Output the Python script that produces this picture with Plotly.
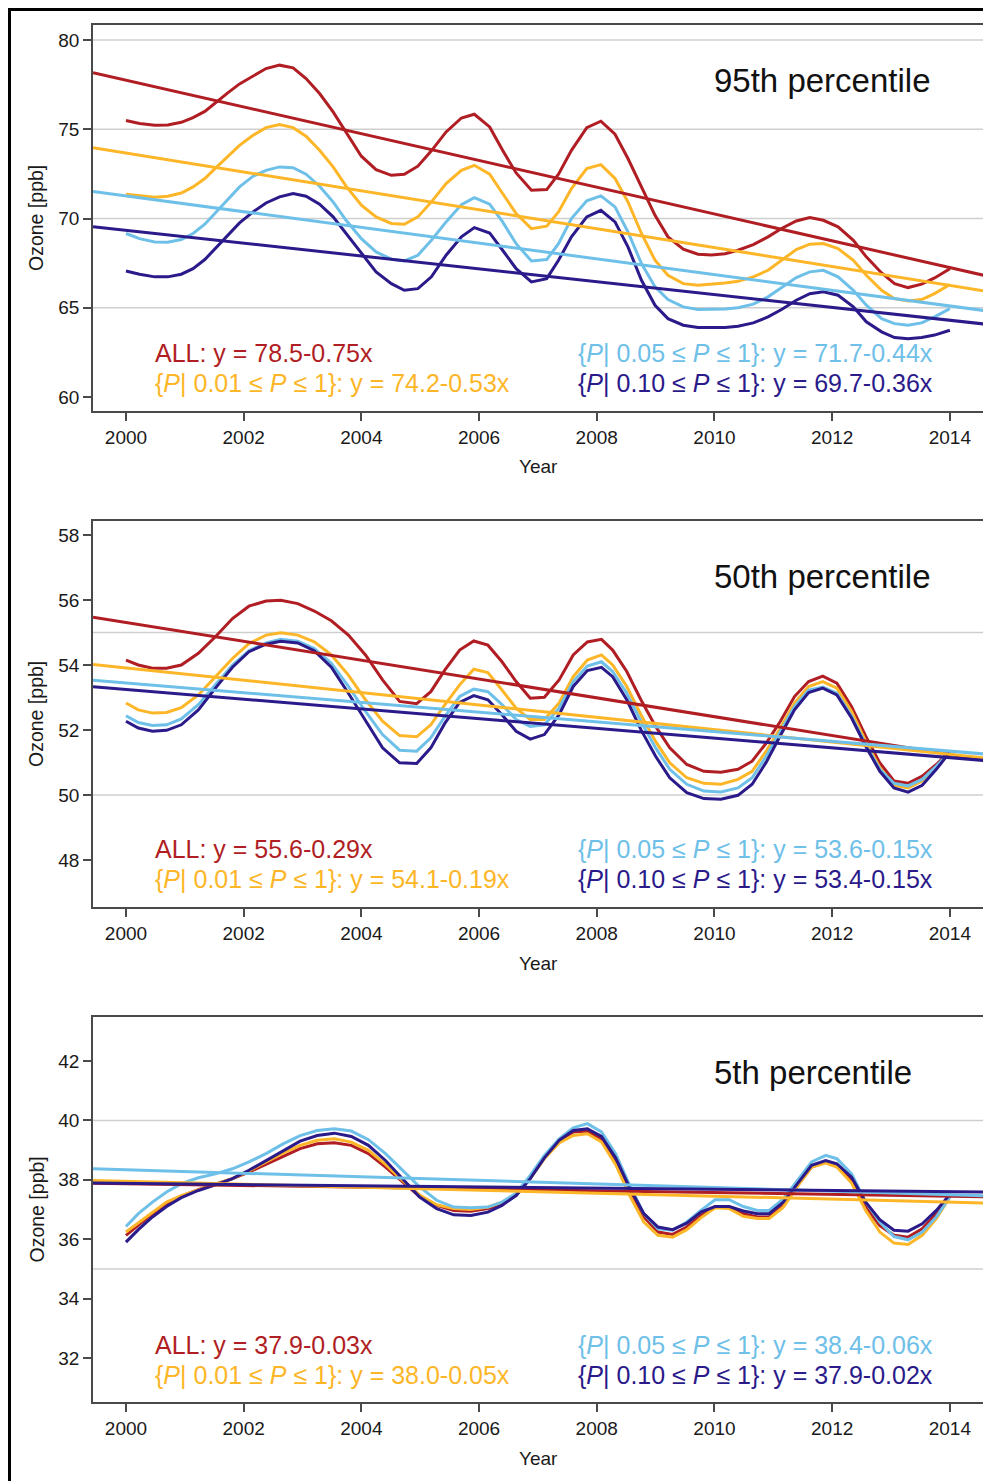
import plotly.graph_objects as go
import numpy as np

# The page body has an 8px margin: the figure is offset by 8px in the window.
OFF = 8
W, H = 991 - OFF, 1481 - OFF
FONT = "Liberation Sans, Arial, sans-serif"

# ---------------- data ----------------
series_names = ["ALL", "P>=0.01", "P>=0.05", "P>=0.10"]
colors = ["#B01E24", "#FDB628", "#6EC0E8", "#2A1A8A"]

# 95th percentile
years_95 = [2000.0, 2000.23, 2000.49, 2000.71, 2000.94, 2001.14, 2001.34, 2001.53, 2001.73, 2001.93,
            2002.16, 2002.38, 2002.61, 2002.84, 2003.06, 2003.29, 2003.52, 2003.74, 2004.0, 2004.25,
            2004.51, 2004.73, 2004.96, 2005.19, 2005.44, 2005.70, 2005.92, 2006.18, 2006.40, 2006.63,
            2006.89, 2007.15, 2007.35, 2007.57, 2007.83, 2008.07, 2008.31, 2008.53, 2008.76, 2008.99,
            2009.21, 2009.47, 2009.72, 2009.95, 2010.18, 2010.40, 2010.66, 2010.91, 2011.14, 2011.39,
            2011.62, 2011.85, 2012.10, 2012.36, 2012.58, 2012.84, 2013.06, 2013.29, 2013.52, 2013.74, 2014.0]
all_95 = [75.49, 75.32, 75.22, 75.24, 75.39, 75.65, 76.0, 76.53, 77.04, 77.54, 78.0, 78.4, 78.59, 78.44,
          77.84, 77.0, 75.97, 74.8, 73.49, 72.74, 72.42, 72.48, 72.93, 73.79, 74.85, 75.63, 75.84, 75.13,
          73.82, 72.55, 71.58, 71.62, 72.48, 73.82, 75.09, 75.45, 74.72, 73.36, 71.77, 70.18, 68.97, 68.28,
          68.0, 67.96, 68.03, 68.22, 68.54, 68.97, 69.44, 69.86, 70.05, 69.9, 69.53, 68.78, 67.85, 66.95,
          66.35, 66.13, 66.32, 66.67, 67.19]
p01_95 = [71.36, 71.27, 71.19, 71.25, 71.43, 71.77, 72.24, 72.85, 73.49, 74.1, 74.66, 75.09, 75.26, 75.09,
          74.61, 73.82, 72.89, 71.81, 70.74, 70.09, 69.72, 69.68, 70.09, 70.93, 71.96, 72.7, 72.98, 72.48,
          71.4, 70.28, 69.43, 69.57, 70.37, 71.68, 72.8, 73.02, 72.24, 70.93, 69.16, 67.66, 66.82, 66.35,
          66.26, 66.32, 66.39, 66.48, 66.73, 67.1, 67.66, 68.26, 68.56, 68.6, 68.31, 67.66, 66.82, 65.98,
          65.51, 65.38, 65.46, 65.79, 66.3]
p05_95 = [69.16, 68.87, 68.69, 68.67, 68.82, 69.16, 69.68, 70.37, 71.06, 71.77, 72.37, 72.7, 72.89, 72.85,
          72.48, 71.81, 70.93, 69.9, 68.87, 68.13, 67.72, 67.62, 67.94, 68.78, 69.81, 70.78, 71.17, 70.8,
          69.81, 68.59, 67.62, 67.7, 68.59, 70.0, 70.99, 71.27, 70.65, 69.25, 67.47, 66.17, 65.46, 65.05,
          64.9, 64.9, 64.93, 65.0, 65.2, 65.61, 66.13, 66.69, 67.01, 67.1, 66.73, 65.98, 65.14, 64.39,
          64.11, 64.02, 64.15, 64.49, 64.95]
p10_95 = [67.06, 66.88, 66.73, 66.73, 66.88, 67.19, 67.7, 68.37, 69.06, 69.75, 70.37, 70.87, 71.21, 71.4,
          71.25, 70.8, 70.09, 69.16, 68.03, 67.01, 66.35, 65.98, 66.07, 66.73, 67.94, 68.97, 69.49, 69.19,
          68.22, 67.19, 66.45, 66.63, 67.66, 68.97, 70.09, 70.46, 69.81, 68.41, 66.54, 65.14, 64.39, 64.02,
          63.89, 63.89, 63.89, 63.96, 64.15, 64.49, 64.9, 65.42, 65.79, 65.89, 65.7, 65.05, 64.21, 63.65,
          63.33, 63.26, 63.33, 63.47, 63.74]
icpt_95 = [78.5, 74.2, 71.7, 69.7]
slope_95 = [-0.75, -0.53, -0.44, -0.36]

# 50th percentile
years_50 = [2000.0, 2000.21, 2000.45, 2000.69, 2000.94, 2001.23, 2001.52, 2001.81, 2002.09, 2002.38,
            2002.63, 2002.92, 2003.20, 2003.49, 2003.78, 2004.07, 2004.36, 2004.65, 2004.94, 2005.18,
            2005.42, 2005.67, 2005.91, 2006.15, 2006.39, 2006.63, 2006.87, 2007.11, 2007.36, 2007.60,
            2007.84, 2008.08, 2008.27, 2008.51, 2008.75, 2009.00, 2009.24, 2009.53, 2009.82, 2010.11,
            2010.40, 2010.64, 2010.88, 2011.12, 2011.36, 2011.60, 2011.84, 2012.08, 2012.33, 2012.57,
            2012.81, 2013.05, 2013.29, 2013.53, 2013.77, 2014.0]
all_50 = [54.15, 54.0, 53.9, 53.9, 54.0, 54.36, 54.87, 55.43, 55.81, 55.97, 55.99, 55.89, 55.66, 55.36,
          54.92, 54.31, 53.54, 52.88, 52.81, 53.18, 53.85, 54.46, 54.74, 54.61, 54.1, 53.49, 52.98, 53.01,
          53.54, 54.31, 54.71, 54.79, 54.46, 53.8, 52.93, 52.11, 51.45, 50.94, 50.73, 50.7, 50.79, 51.04,
          51.6, 52.27, 53.03, 53.49, 53.66, 53.44, 52.72, 51.81, 50.99, 50.43, 50.36, 50.58, 50.94, 51.35]
p01_50 = [52.83, 52.62, 52.52, 52.54, 52.69, 53.08, 53.64, 54.2, 54.66, 54.92, 54.99, 54.92, 54.71, 54.31,
          53.69, 52.93, 52.27, 51.83, 51.79, 52.16, 52.78, 53.39, 53.87, 53.77, 53.23, 52.67, 52.32, 52.32,
          52.83, 53.64, 54.15, 54.31, 54.0, 53.34, 52.47, 51.65, 50.99, 50.53, 50.36, 50.33, 50.48, 50.73,
          51.35, 52.06, 52.83, 53.34, 53.49, 53.29, 52.57, 51.65, 50.84, 50.3, 50.22, 50.43, 50.84, 51.32]
p05_50 = [52.44, 52.23, 52.14, 52.16, 52.34, 52.78, 53.39, 54.0, 54.44, 54.68, 54.79, 54.73, 54.51, 54.05,
          53.34, 52.57, 51.86, 51.38, 51.35, 51.76, 52.42, 53.03, 53.26, 53.18, 52.78, 52.32, 52.11, 52.16,
          52.67, 53.49, 53.97, 54.1, 53.8, 53.13, 52.27, 51.45, 50.79, 50.33, 50.12, 50.09, 50.22, 50.53,
          51.19, 51.96, 52.72, 53.23, 53.32, 53.13, 52.42, 51.55, 50.79, 50.36, 50.28, 50.48, 50.89, 51.32]
p10_50 = [52.27, 52.06, 51.96, 51.99, 52.16, 52.62, 53.29, 53.93, 54.41, 54.64, 54.73, 54.68, 54.44, 53.93,
          53.13, 52.27, 51.45, 50.99, 50.97, 51.45, 52.21, 52.85, 53.06, 52.93, 52.47, 51.96, 51.72, 51.86,
          52.47, 53.34, 53.83, 53.93, 53.64, 52.93, 52.01, 51.19, 50.53, 50.07, 49.89, 49.87, 49.99, 50.33,
          51.01, 51.83, 52.62, 53.15, 53.29, 53.08, 52.37, 51.5, 50.73, 50.22, 50.09, 50.3, 50.79, 51.32]
icpt_50 = [55.6, 54.1, 53.6, 53.4]
slope_50 = [-0.29, -0.19, -0.15, -0.15]

# 5th percentile
years_5 = [2000.0, 2000.21, 2000.45, 2000.69, 2000.94, 2001.23, 2001.52, 2001.81, 2002.09, 2002.38,
           2002.67, 2002.96, 2003.25, 2003.54, 2003.83, 2004.12, 2004.41, 2004.70, 2004.99, 2005.28,
           2005.57, 2005.86, 2006.15, 2006.39, 2006.63, 2006.87, 2007.11, 2007.36, 2007.60, 2007.84,
           2008.08, 2008.32, 2008.56, 2008.80, 2009.04, 2009.29, 2009.53, 2009.77, 2010.01, 2010.25,
           2010.49, 2010.73, 2010.93, 2011.17, 2011.41, 2011.65, 2011.89, 2012.08, 2012.33, 2012.57,
           2012.81, 2013.05, 2013.29, 2013.53, 2013.77, 2014.0]
all_5 = [36.13, 36.46, 36.86, 37.19, 37.45, 37.67, 37.85, 38.04, 38.26, 38.52, 38.8, 39.05, 39.21, 39.25,
         39.16, 38.88, 38.43, 37.92, 37.44, 37.14, 36.97, 36.94, 37.03, 37.19, 37.51, 38.07, 38.77, 39.3,
         39.61, 39.64, 39.38, 38.65, 37.64, 36.75, 36.24, 36.16, 36.41, 36.8, 37.08, 37.08, 36.86, 36.75,
         36.75, 37.14, 37.81, 38.43, 38.6, 38.48, 37.98, 37.08, 36.46, 36.13, 36.07, 36.35, 36.86, 37.47]
p01_5 = [36.24, 36.54, 36.91, 37.25, 37.47, 37.67, 37.85, 38.04, 38.3, 38.6, 38.9, 39.16, 39.33, 39.38,
         39.27, 38.99, 38.52, 37.98, 37.49, 37.16, 37.03, 37.0, 37.08, 37.25, 37.53, 38.04, 38.71, 39.24,
         39.49, 39.55, 39.27, 38.52, 37.47, 36.58, 36.13, 36.07, 36.32, 36.72, 37.06, 37.03, 36.77, 36.7,
         36.7, 37.08, 37.78, 38.43, 38.56, 38.43, 37.89, 36.97, 36.24, 35.87, 35.82, 36.13, 36.69, 37.42]
p05_5 = [36.43, 36.86, 37.25, 37.59, 37.87, 38.07, 38.2, 38.37, 38.6, 38.88, 39.21, 39.49, 39.66, 39.72,
         39.64, 39.35, 38.88, 38.32, 37.76, 37.31, 37.08, 37.06, 37.08, 37.25, 37.55, 38.15, 38.82, 39.38,
         39.75, 39.89, 39.61, 38.88, 37.81, 36.86, 36.35, 36.3, 36.58, 36.97, 37.33, 37.33, 37.1, 36.97,
         36.97, 37.36, 38.0, 38.6, 38.82, 38.71, 38.2, 37.25, 36.58, 36.09, 35.98, 36.24, 36.75, 37.42]
p10_5 = [35.9, 36.32, 36.75, 37.1, 37.4, 37.64, 37.83, 38.04, 38.32, 38.65, 38.99, 39.3, 39.49, 39.57,
         39.46, 39.16, 38.65, 38.04, 37.42, 37.03, 36.82, 36.8, 36.91, 37.14, 37.47, 38.04, 38.74, 39.33,
         39.66, 39.72, 39.46, 38.74, 37.73, 36.86, 36.41, 36.32, 36.54, 36.91, 37.1, 37.1, 36.95, 36.86,
         36.86, 37.25, 37.89, 38.49, 38.65, 38.54, 38.09, 37.25, 36.66, 36.3, 36.27, 36.52, 36.97, 37.51]
icpt_5 = [37.9, 38.0, 38.4, 37.9]
slope_5 = [-0.03, -0.05, -0.06, -0.02]

titles = ["95th percentile", "50th percentile", "5th percentile"]
x_ticks = [2000, 2002, 2004, 2006, 2008, 2010, 2012, 2014]
y_ticks = [[60, 65, 70, 75, 80], [48, 50, 52, 54, 56, 58], [32, 34, 36, 38, 40, 42]]
grid_vals = [[65, 70, 75, 80], [50, 55], [35, 40]]

# ---------------- layout helpers (window pixel -> paper) ----------------
def px(x):
    return (x - OFF) / W

def py(y):
    return 1 - (y - OFF) / H

X_RANGE = [1999.44, 2014.58]
Y_RANGES = [[59.216, 80.84], [46.554, 58.431], [30.52, 43.48]]
panel_px = [(25, 411), (521, 907), (1017, 1402)]  # top, bottom in window pixels
plot_left, plot_right = 93, 984

panels = [
    (years_95, [all_95, p01_95, p05_95, p10_95], icpt_95, slope_95),
    (years_50, [all_50, p01_50, p05_50, p10_50], icpt_50, slope_50),
    (years_5, [all_5, p01_5, p05_5, p10_5], icpt_5, slope_5),
]

fig = go.Figure()
annotations = []
shapes = []
axis_color = "#4a4a4a"

for i, (yrs, curves, icpts, slopes) in enumerate(panels):
    n = "" if i == 0 else str(i + 1)
    xa, ya = "x" + n, "y" + n
    for c, col in zip(curves, colors):
        fig.add_trace(go.Scatter(x=yrs, y=c, mode="lines", xaxis=xa, yaxis=ya,
                                 line=dict(color=col, width=3), showlegend=False,
                                 hoverinfo="skip"))
    # regression lines: y = a + b*(year-1999)
    xr = np.array(X_RANGE)
    for a, b, col in zip(icpts, slopes, colors):
        fig.add_trace(go.Scatter(x=xr, y=a + b * (xr - 1999), mode="lines", xaxis=xa, yaxis=ya,
                                 line=dict(color=col, width=3), showlegend=False,
                                 hoverinfo="skip"))
    top, bot = panel_px[i]
    dom_y = [py(bot), py(top)]
    fig.layout["xaxis" + n] = dict(
        domain=[px(plot_left), px(plot_right)], range=X_RANGE, anchor=ya,
        tickvals=x_ticks, ticks="outside", ticklen=8, tickwidth=1.5, tickcolor=axis_color,
        showline=True, linecolor=axis_color, linewidth=1.5, mirror=True,
        showgrid=False, zeroline=False,
        tickfont=dict(family=FONT, size=19, color="#1a1a1a"))
    fig.layout["yaxis" + n] = dict(
        domain=dom_y, range=Y_RANGES[i], anchor=xa,
        tickvals=y_ticks[i], ticks="outside", ticklen=8, tickwidth=1.5, tickcolor=axis_color,
        showline=True, linecolor=axis_color, linewidth=1.5, mirror=True,
        showgrid=False, zeroline=False,
        tickfont=dict(family=FONT, size=19, color="#1a1a1a"))
    for g in grid_vals[i]:
        shapes.append(dict(type="line", xref=xa + " domain", yref=ya, x0=0, x1=1, y0=g, y1=g,
                           line=dict(color="#cfcfcf", width=1.5), layer="below"))
    annotations.append(dict(text="Year", xref="paper", yref="paper",
                            x=px((plot_left + plot_right) / 2), y=py(bot + 56),
                            xanchor="center", yanchor="middle", showarrow=False,
                            font=dict(family=FONT, size=19, color="#1a1a1a")))
    annotations.append(dict(text="Ozone [ppb]", xref="paper", yref="paper",
                            x=px(36), y=py((top + bot) / 2), textangle=-90,
                            xanchor="center", yanchor="middle", showarrow=False,
                            font=dict(family=FONT, size=19.5, color="#1a1a1a")))
    annotations.append(dict(text=titles[i], xref="paper", yref="paper",
                            x=px(712), y=py(top + 55), xanchor="left", yanchor="middle",
                            showarrow=False, font=dict(family=FONT, size=33, color="#111111")))
    eq = [
        f"ALL: y = {icpts[0]:.1f}-{abs(slopes[0]):.2f}x",
        f"{{<i>P</i>| 0.01 \u2264 <i>P</i> \u2264 1}}: y = {icpts[1]:.1f}-{abs(slopes[1]):.2f}x",
        f"{{<i>P</i>| 0.05 \u2264 <i>P</i> \u2264 1}}: y = {icpts[2]:.1f}-{abs(slopes[2]):.2f}x",
        f"{{<i>P</i>| 0.10 \u2264 <i>P</i> \u2264 1}}: y = {icpts[3]:.1f}-{abs(slopes[3]):.2f}x",
    ]
    l1, l2 = top + 328, top + 358
    annotations.append(dict(text=eq[0], xref="paper", yref="paper", x=px(153), y=py(l1),
                            xanchor="left", yanchor="middle", showarrow=False,
                            font=dict(family=FONT, size=25, color=colors[0])))
    annotations.append(dict(text=eq[1], xref="paper", yref="paper", x=px(153), y=py(l2),
                            xanchor="left", yanchor="middle", showarrow=False,
                            font=dict(family=FONT, size=25, color=colors[1])))
    annotations.append(dict(text=eq[2], xref="paper", yref="paper", x=px(935), y=py(l1),
                            xanchor="right", yanchor="middle", showarrow=False,
                            font=dict(family=FONT, size=25, color=colors[2])))
    annotations.append(dict(text=eq[3], xref="paper", yref="paper", x=px(935), y=py(l2),
                            xanchor="right", yanchor="middle", showarrow=False,
                            font=dict(family=FONT, size=25, color=colors[3])))

# outer frame (top and left edges visible)
shapes.append(dict(type="line", xref="paper", yref="paper", x0=px(9), x1=1.0, y0=py(9.5), y1=py(9.5),
                   line=dict(color="black", width=3)))
shapes.append(dict(type="line", xref="paper", yref="paper", x0=px(9.5), x1=px(9.5), y0=0, y1=py(8),
                   line=dict(color="black", width=3)))

fig.update_layout(width=W, height=H, margin=dict(l=0, r=0, t=0, b=0),
                  plot_bgcolor="white", paper_bgcolor="white",
                  annotations=annotations, shapes=shapes, showlegend=False)

fig.write_html("out.html")
